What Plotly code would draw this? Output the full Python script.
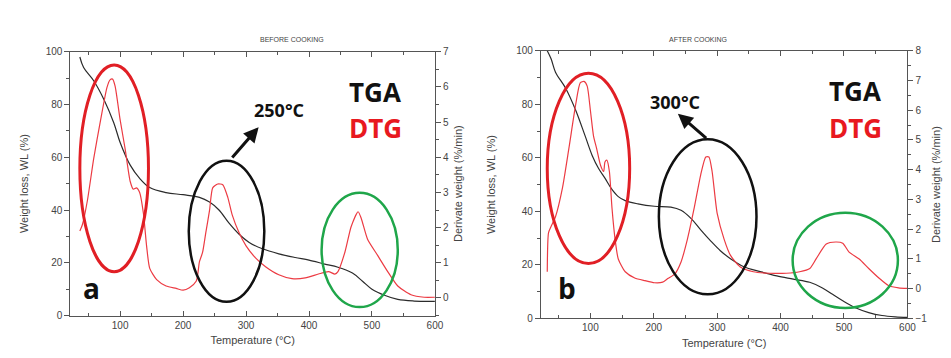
import plotly.graph_objects as go

# ---------------- data ----------------
# Panel a (before cooking)
tga_a_x = [36, 42, 58, 74, 90, 100, 116, 131, 147, 173, 200, 226, 242, 257, 273, 289, 305, 326, 352, 378, 400, 425, 446, 469, 485, 500, 521, 541, 567, 600]
tga_a_y = [98, 94, 89, 82, 73, 65.6, 57, 52, 48.5, 46.6, 45.8, 44.8, 43, 40, 35, 30.8, 27.7, 25.3, 23.4, 22, 21, 19.5, 18.3, 16.1, 13, 10, 7.6, 6.1, 5.5, 5.4]
dtg_a_x = [36, 40, 48, 58, 69, 79, 84, 88, 92, 100, 108, 116, 121, 126, 131, 137, 142, 147, 158, 173, 189, 200, 210, 221, 226, 231, 236, 242, 247, 255, 263, 271, 278, 289, 300, 315, 331, 352, 373, 394, 415, 431, 441, 446, 457, 467, 478, 483, 493, 509, 525, 541, 562, 583, 600]
dtg_a_y = [1.9, 2.08, 2.77, 3.96, 5.06, 5.98, 6.2, 6.22, 6.02, 5.06, 4.23, 3.31, 3.09, 3.13, 3.0, 2.4, 1.48, 0.84, 0.52, 0.34, 0.27, 0.22, 0.29, 0.48, 1.03, 1.3, 1.85, 2.49, 3.13, 3.24, 3.22, 2.86, 2.36, 1.85, 1.48, 1.14, 0.89, 0.66, 0.55, 0.57, 0.68, 0.75, 0.68, 0.75, 1.3, 2.03, 2.45, 2.26, 1.67, 1.21, 0.75, 0.34, 0.09, 0.02, 0.02]

# Panel b (after cooking)
tga_b_x = [32, 38, 45, 61, 77, 92, 103, 113, 123, 134, 144, 155, 175, 201, 227, 243, 259, 274, 290, 305, 321, 342, 368, 394, 420, 446, 466, 482, 498, 518, 539, 560, 581, 600]
tga_b_y = [100, 97, 92, 86, 77.7, 68, 60.8, 56, 52.4, 48.2, 45.5, 44, 42.8, 41.9, 41.6, 40.4, 37.3, 33.1, 28.9, 25.3, 22.3, 19.3, 17.5, 15.9, 14.7, 13.5, 11.4, 9, 6.6, 4, 2.2, 1.1, 0.6, 0.4]
dtg_b_x = [32, 34, 38, 45, 56, 66, 77, 84, 90, 95, 100, 105, 110, 116, 121, 123, 126, 130, 134, 139, 144, 155, 170, 186, 201, 214, 222, 233, 243, 253, 264, 274, 282, 287, 292, 300, 311, 321, 336, 357, 383, 409, 430, 446, 456, 472, 487, 498, 508, 524, 539, 555, 570, 586, 600]
dtg_b_y = [0.57, 1.88, 2.09, 2.42, 3.39, 4.7, 6.21, 6.92, 6.97, 6.81, 6.0, 5.13, 4.7, 4.15, 3.94, 4.26, 4.32, 3.94, 2.74, 1.66, 1.0, 0.57, 0.36, 0.27, 0.2, 0.22, 0.34, 0.49, 0.9, 1.66, 2.74, 3.83, 4.43, 4.43, 3.94, 2.53, 1.66, 1.12, 0.74, 0.57, 0.52, 0.52, 0.57, 0.68, 1.0, 1.5, 1.57, 1.53, 1.23, 1.0, 0.68, 0.36, 0.11, 0.03, 0.01]

panel_titles = ["BEFORE COOKING", "AFTER COOKING"]
x_title = "Temperature (°C)"
yl_title = "Weight loss, WL (%)"
yr_title = "Derivate weight (%/min)"

TGA_C = "#2b2b2b"
DTG_C = "#ec3b43"
AX_C = "#555555"
FONT = "Liberation Sans, Arial, sans-serif"

fig = go.Figure()
fig.add_trace(go.Scatter(x=tga_a_x, y=tga_a_y, mode="lines", line=dict(color=TGA_C, width=1.2, shape="spline"), xaxis="x", yaxis="y", showlegend=False))
fig.add_trace(go.Scatter(x=dtg_a_x, y=dtg_a_y, mode="lines", line=dict(color=DTG_C, width=1.2, shape="spline", smoothing=0.6), xaxis="x", yaxis="y2", showlegend=False))
fig.add_trace(go.Scatter(x=tga_b_x, y=tga_b_y, mode="lines", line=dict(color=TGA_C, width=1.2, shape="spline"), xaxis="x2", yaxis="y3", showlegend=False))
fig.add_trace(go.Scatter(x=dtg_b_x, y=dtg_b_y, mode="lines", line=dict(color=DTG_C, width=1.2, shape="spline", smoothing=0.6), xaxis="x2", yaxis="y4", showlegend=False))

W, H = 951, 358
def dom_x(a, b):
    return [a / W, b / W]
def dom_y(top, bot):
    return [(H - bot) / H, (H - top) / H]

tickfont = dict(family=FONT, size=10, color="#444")
titlefont = dict(family=FONT, size=11, color="#444")

def xax(domain, anchor, rng):
    return dict(domain=domain, anchor=anchor, range=rng, tickvals=[100, 200, 300, 400, 500, 600],
                ticks="inside", ticklen=5, tickcolor=AX_C, showline=True, linecolor=AX_C, linewidth=1,
                mirror="ticks", showgrid=False, zeroline=False, tickfont=tickfont,
                minor=dict(tickvals=[50, 150, 250, 350, 450, 550], ticks="inside", ticklen=3, tickcolor=AX_C),
                title=dict(text=x_title, font=titlefont, standoff=6))

def ylax(domain, anchor, standoff):
    return dict(domain=domain, anchor=anchor, range=[0, 100], tickvals=[0, 20, 40, 60, 80, 100],
                ticks="outside", ticklen=5, tickcolor=AX_C, showline=True, linecolor=AX_C, linewidth=1,
                showgrid=False, zeroline=False, tickfont=tickfont,
                minor=dict(dtick=10, ticks="outside", ticklen=3, tickcolor=AX_C),
                title=dict(text=yl_title, font=titlefont, standoff=standoff))

def yrax(domain, anchor, overlay, rng, vals):
    return dict(domain=domain, anchor=anchor, overlaying=overlay, side="right", range=rng, tickvals=vals,
                ticks="outside", ticklen=5, tickcolor=AX_C, showline=True, linecolor=AX_C, linewidth=1,
                showgrid=False, zeroline=False, tickfont=tickfont,
                minor=dict(dtick=0.5, ticks="outside", ticklen=3, tickcolor=AX_C),
                title=dict(text=yr_title, font=titlefont, standoff=6))

fig.update_layout(
    width=W, height=H, margin=dict(l=0, r=0, t=0, b=0),
    paper_bgcolor="white", plot_bgcolor="white",
    xaxis=xax(dom_x(63, 431), "y", [21, 600]),
    yaxis=ylax(dom_y(39, 312), "x", 14),
    yaxis2=yrax(dom_y(39, 312), "x", "y", [-0.5, 7], [0, 1, 2, 3, 4, 5, 6, 7]),
    xaxis2=xax(dom_x(538, 908), "y3", [22, 600]),
    yaxis3=ylax(dom_y(38, 315), "x2", 18),
    yaxis4=yrax(dom_y(38, 315), "x2", "y3", [-1, 8], [-1, 0, 1, 2, 3, 4, 5, 6, 7, 8]),
)

# ellipses
def ell(xr, yr, x0, x1, y0, y1, color, w):
    fig.add_shape(type="circle", xref=xr, yref=yr, x0=x0, x1=x1, y0=y0, y1=y1, line=dict(color=color, width=w))

RED_E, BLK_E, GRN_E = "#e11f25", "#111111", "#1fa64a"
ell("x", "y", 36, 145, 16.6, 95, RED_E, 3)
ell("x", "y", 209, 329, 5.2, 58.7, BLK_E, 2.5)
ell("x", "y", 420, 541, 3.2, 46.5, GRN_E, 2.5)
ell("x2", "y3", 32, 162, 20.5, 91.6, RED_E, 3)
ell("x2", "y3", 208, 362, 9.0, 66.9, BLK_E, 2.5)
ell("x2", "y3", 419, 585, 3.9, 39.5, GRN_E, 2.5)

def txt(xr, yr, x, y, t, size, color):
    fig.add_annotation(xref=xr, yref=yr, x=x, y=y, text="<b>%s</b>" % t, showarrow=False,
                       font=dict(family="Open Sans, Liberation Sans, sans-serif", size=size, color=color))

txt("x", "y", 505, 84.6, "TGA", 26, "#111")
txt("x", "y", 505, 71, "DTG", 26, "#e8191f")
txt("x", "y", 352, 78, "250°C", 18, "#111")
txt("x", "y", 55, 10.6, "a", 28, "#111")
txt("x2", "y3", 518, 85, "TGA", 26, "#111")
txt("x2", "y3", 518, 71, "DTG", 26, "#e8191f")
txt("x2", "y3", 233, 81, "300°C", 18, "#111")
txt("x2", "y3", 63, 11.4, "b", 28, "#111")

fig.add_annotation(xref="x", yref="y", axref="x", ayref="y", x=320, y=71.4, ax=276, ay=59.3, text="",
                   showarrow=True, arrowhead=2, arrowsize=1, arrowwidth=3, arrowcolor="#111")
fig.add_annotation(xref="x2", yref="y3", axref="x2", ayref="y3", x=238, y=76.5, ax=285, ay=66.9, text="",
                   showarrow=True, arrowhead=2, arrowsize=1, arrowwidth=3, arrowcolor="#111")

for t, xp in zip(panel_titles, [252 / W, 728 / W]):
    fig.add_annotation(xref="paper", yref="paper", x=xp, y=(H - 21) / H, text=t, showarrow=False,
                       font=dict(family=FONT, size=7, color="#444"))

fig.write_html("out.html")
